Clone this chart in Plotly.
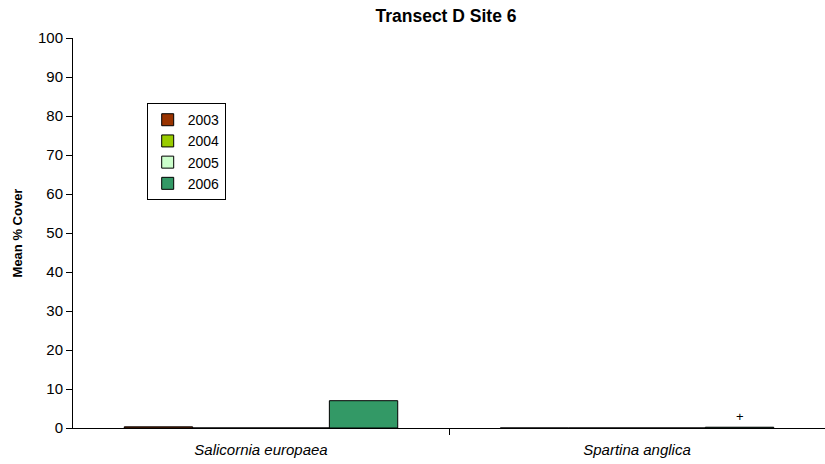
import plotly.graph_objects as go

categories = ["Salicornia europaea", "Spartina anglica"]
years = ["2003", "2004", "2005", "2006"]
values_2003 = [0.3, 0.0]
values_2004 = [0.0, 0.0]
values_2005 = [0.0, 0.0]
values_2006 = [7.0, 0.2]
colors = ["#993300", "#99CC00", "#CCFFCC", "#339966"]
y_ticks = [0, 10, 20, 30, 40, 50, 60, 70, 80, 90, 100]

series = [values_2003, values_2004, values_2005, values_2006]
xpos = list(range(len(categories)))

FONT = "Liberation Sans, Arial, sans-serif"

W, H = 825, 464
ML, MR, MT, MB = 73, 0, 38, 36

fig = go.Figure()
for name, vals, col in zip(years, series, colors):
    fig.add_trace(go.Bar(
        x=xpos, y=vals, name=name,
        marker=dict(color=col, line=dict(color="#000000", width=1)),
    ))

bargap = 1.5 / 5.5
bw = (1 - bargap) / 4
fig.add_annotation(
    x=1 + 1.5 * bw, y=values_2006[1] + 0.4, xref="x", yref="y",
    text="+", showarrow=False, yanchor="bottom",
    font=dict(family=FONT, size=13, color="#000000"),
)

fig.update_layout(
    width=W, height=H,
    margin=dict(l=ML, r=MR, t=MT, b=MB),
    paper_bgcolor="white", plot_bgcolor="white",
    barmode="group", bargap=bargap, bargroupgap=0,
    font=dict(family=FONT, size=15, color="#000000"),
    title=dict(text="<b>Transect D Site 6</b>", x=446 / W, xanchor="center",
               y=1 - 16 / H, yanchor="middle",
               font=dict(family=FONT, size=17.5, color="#000000")),
    showlegend=True,
    legend=dict(x=0.098, y=0.833, xanchor="left", yanchor="top",
                bordercolor="#000000", borderwidth=1, bgcolor="white",
                font=dict(family=FONT, size=14, color="#000000"),
                traceorder="normal", itemwidth=30, tracegroupgap=0),
    xaxis=dict(
        range=[-0.5, 1.5], tickmode="array", tickvals=xpos,
        ticktext=["<i>%s</i>" % c for c in categories],
        ticks="", showline=True, linecolor="#000000", linewidth=1,
        showgrid=False, zeroline=False, ticklabelstandoff=8,
        tickfont=dict(family=FONT, size=15, color="#000000"),
        minor=dict(tickmode="array", tickvals=[0.5], ticks="outside",
                   ticklen=6, tickcolor="#000000", tickwidth=1, showgrid=False),
        fixedrange=True,
    ),
    yaxis=dict(
        range=[0, 100], tickmode="array", tickvals=y_ticks,
        ticks="outside", ticklen=6, tickcolor="#000000",
        showline=True, linecolor="#000000", linewidth=1,
        showgrid=False, zeroline=False,
        title=dict(text="<b>Mean % Cover</b>", standoff=12,
                   font=dict(family=FONT, size=13, color="#000000")),
        tickfont=dict(family=FONT, size=15, color="#000000"),
    ),
)

fig.write_html("out.html",
               config={"displayModeBar": False},
               post_script="document.body.style.margin='0';document.body.style.overflow='hidden';")
